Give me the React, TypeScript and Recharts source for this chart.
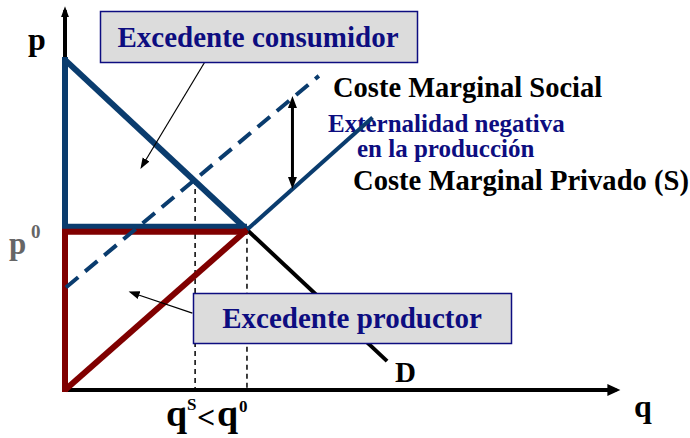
import { ComposedChart, Line, XAxis, YAxis } from "recharts";

// chart units: q on the x axis, p on the y axis
const qMax = 30.5;
const pMax = 23.9;
const q0 = 10;
const p0 = 10;
const qS = 7.15;
const pS = 13.1;

const demandTop = [
	{ q: 0, p: 20.6 },
	{ q: q0, p: p0 },
];
const demandRest = [
	{ q: q0, p: p0 },
	{ q: 17.7, p: 1.8 },
];
const supplyLow = [
	{ q: 0, p: 0 },
	{ q: q0, p: p0 },
];
const supplyHigh = [
	{ q: q0, p: p0 },
	{ q: 16.9, p: 17.0 },
];
const socialCost = [
	{ q: 0.05, p: 6.4 },
	{ q: 13.95, p: 19.6 },
];
const consumerSides = [
	{ q: 0, p: 20.6 },
	{ q: 0, p: p0 },
	{ q: q0, p: p0 },
];
const producerSides = [
	{ q: q0, p: p0 },
	{ q: 0, p: p0 },
	{ q: 0, p: 0 },
];
const qSGuide = [
	{ q: qS, p: pS },
	{ q: qS, p: 0 },
];
const q0Guide = [
	{ q: q0, p: p0 },
	{ q: q0, p: 0 },
];
const externality = [
	{ q: 12.5, p: 12.8 },
	{ q: 12.5, p: 18.1 },
];
const consumerPointer = [
	{ q: 7.7, p: 20.5 },
	{ q: 4.2, p: 13.9 },
];
const producerPointer = [
	{ q: 7.0, p: 4.8 },
	{ q: 3.6, p: 6.1 },
];
const yAxisLine = [
	{ q: 0, p: 0 },
	{ q: 0, p: 23.7 },
];
const xAxisLine = [
	{ q: 0, p: 0 },
	{ q: 30.3, p: 0 },
];

const BLUE = "#0a3c6e";
const RED = "#800000";
const NAVY = "#0d0d80";
const FONT = "'Liberation Serif', 'DejaVu Serif', serif";

function seg(data: { q: number; p: number }[], stroke: string, width: number, extra: any = {}) {
	return (
		<Line
			data={data}
			dataKey="p"
			type="linear"
			stroke={stroke}
			strokeWidth={width}
			dot={false}
			activeDot={false}
			legendType="none"
			isAnimationActive={false}
			{...extra}
		/>
	);
}

function Label({ x, y, size, color = "#000", anchor = "start", children }: any) {
	return (
		<text
			x={x}
			y={y}
			textAnchor={anchor}
			style={{ fontFamily: FONT, fontWeight: 700, fontSize: size, fill: color }}
		>
			{children}
		</text>
	);
}

export default function App() {
	return (
		<div style={{ position: "relative", width: 690, height: 438 }}>
			<style>{"body{margin:0} .shift-up{transform:translateY(-3px)} .shift-down{transform:translateY(2px)}"}</style>
			<svg width={690} height={438} style={{ position: "absolute", left: 0, top: 0 }}>
				<defs>
					<marker id="xHead" markerUnits="userSpaceOnUse" markerWidth="14" markerHeight="13" refX="9" refY="6.5" orient="auto" viewBox="0 0 14 13">
						<path d="M0,0.5 L13,6.5 L0,12.5 z" fill="#000" />
					</marker>
					<marker id="yHead" markerUnits="userSpaceOnUse" markerWidth="12" markerHeight="9" refX="7" refY="4.5" orient="auto" viewBox="0 0 12 9">
						<path d="M0,0.5 L11,4.5 L0,8.5 z" fill="#000" />
					</marker>
					<marker id="bigHead" markerUnits="userSpaceOnUse" markerWidth="13" markerHeight="10" refX="8" refY="5" orient="auto-start-reverse" viewBox="0 0 13 10">
						<path d="M0,0.5 L12,5 L0,9.5 z" fill="#000" />
					</marker>
					<marker id="thinHead" markerUnits="userSpaceOnUse" markerWidth="12" markerHeight="9" refX="9" refY="4.5" orient="auto" viewBox="0 0 12 9">
						<path d="M0,0.5 L11,4.5 L0,8.5 z" fill="#000" />
					</marker>
				</defs>
				<Label x={28} y={50} size={32}>p</Label>
				<Label x={9} y={254} size={31} color="#666">p</Label>
				<Label x={31} y={238} size={19} color="#666">0</Label>
				<Label x={634} y={417} size={32}>q</Label>
				<Label x={395} y={382} size={29}>D</Label>
				<Label x={166} y={426} size={38}>q</Label>
				<Label x={187} y={410} size={17}>S</Label>
				<Label x={197} y={428} size={32}>&lt;</Label>
				<Label x={217} y={426} size={38}>q</Label>
				<Label x={239} y={412} size={17}>0</Label>
				<Label x={333} y={97} size={28.5}>Coste Marginal Social</Label>
				<Label x={328} y={132} size={25} color={NAVY}>Externalidad negativa</Label>
				<Label x={357} y={157} size={25} color={NAVY}>en la producción</Label>
				<Label x={353} y={190} size={28.6}>Coste Marginal Privado (S)</Label>
			</svg>
			<div style={{ position: "absolute", left: 0, top: 0 }}>
				<ComposedChart width={690} height={438} margin={{ top: 7, right: 70, bottom: 48, left: 65 }}>
					<XAxis dataKey="q" type="number" domain={[0, qMax]} hide />
					<YAxis type="number" domain={[0, pMax]} hide />
					{seg(yAxisLine, "#000", 4, { markerEnd: "url(#yHead)" })}
					{seg(xAxisLine, "#000", 4, { markerEnd: "url(#xHead)" })}
					{seg(qSGuide, "#000", 1.5, { strokeDasharray: "5 4" })}
					{seg(q0Guide, "#000", 1.5, { strokeDasharray: "5 4" })}
					{seg(demandRest, "#000", 4)}
					{seg(supplyHigh, BLUE, 4)}
					{seg(consumerSides, BLUE, 6, { className: "shift-up" })}
					{seg(demandTop, BLUE, 6)}
					{seg(producerSides, RED, 6, { className: "shift-down" })}
					{seg(supplyLow, RED, 6)}
					{seg(socialCost, BLUE, 4, { strokeDasharray: "16 9" })}
					{seg(externality, "#000", 3, { markerStart: "url(#bigHead)", markerEnd: "url(#bigHead)" })}
					{seg(consumerPointer, "#000", 1.2, { markerEnd: "url(#thinHead)" })}
					{seg(producerPointer, "#000", 1.2, { markerEnd: "url(#thinHead)" })}
				</ComposedChart>
			</div>
			<svg width={690} height={438} style={{ position: "absolute", left: 0, top: 0, pointerEvents: "none" }}>
				<rect x={100.5} y={11.5} width={317} height={51} fill="#dcdcdc" stroke={NAVY} strokeWidth={1.5} />
				<Label x={258} y={47} size={29} color={NAVY} anchor="middle">Excedente consumidor</Label>
				<rect x={193.5} y={293.5} width={318} height={50} fill="#dcdcdc" stroke={NAVY} strokeWidth={1.5} />
				<Label x={352} y={328} size={29} color={NAVY} anchor="middle">Excedente productor</Label>
			</svg>
		</div>
	);
}
